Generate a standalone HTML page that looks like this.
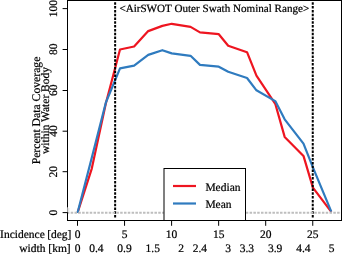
<!DOCTYPE html>
<html><head><meta charset="utf-8"><style>
html,body{margin:0;padding:0;background:#fff;width:342px;height:254px;overflow:hidden}
svg{display:block;will-change:transform}
text{font-family:"Liberation Serif",serif;fill:#000;stroke:#000;stroke-width:0.22px;text-rendering:geometricPrecision}
</style></head><body>
<svg width="342" height="254" viewBox="0 0 342 254">
<rect width="342" height="254" fill="#fff"/>

<polyline points="77.50,213.00 91.77,168.60 105.88,103.30 120.00,49.50 134.11,46.50 148.22,31.10 162.34,25.90 171.75,23.80 190.57,26.90 199.98,32.40 218.80,34.20 228.21,45.70 247.03,52.20 256.44,75.70 275.26,103.80 284.67,136.90 303.49,155.90 312.90,187.60 331.30,211.90" fill="none" stroke="#ee1520" stroke-width="2.2" stroke-linejoin="round"/>
<polyline points="77.50,213.00 91.77,157.70 105.88,102.50 120.00,68.40 134.11,65.60 148.22,54.90 162.34,50.20 171.75,53.40 190.57,55.80 199.98,64.90 218.80,66.70 228.21,71.80 247.03,78.00 256.44,90.30 275.26,101.10 284.67,119.30 303.49,143.70 312.90,167.30 331.30,211.70" fill="none" stroke="#2f7bbf" stroke-width="2.2" stroke-linejoin="round"/>
<line x1="115.14" y1="217.6" x2="115.14" y2="1" stroke="#000" stroke-width="2" stroke-dasharray="2.5 1.3"/>
<line x1="312.75" y1="217.6" x2="312.75" y2="1" stroke="#000" stroke-width="2" stroke-dasharray="2.5 1.3"/>
<line x1="68" y1="212.7" x2="341" y2="212.7" stroke="#bebebe" stroke-width="2" stroke-dasharray="2.5 1.306" stroke-dashoffset="1.098"/>
<rect x="67.5" y="0.5" width="274" height="220" fill="none" stroke="#000" stroke-width="1"/>
<rect x="67" y="207.3" width="1" height="4.9" fill="#9a9a9a"/>
<rect x="68" y="208" width="1.5" height="4" fill="#e6e6e6"/>
<line x1="62.6" y1="212.60" x2="67" y2="212.60" stroke="#000" stroke-width="1"/>
<text font-size="11.5" text-anchor="middle" transform="translate(57,212.70) rotate(-90)">0</text>
<line x1="62.6" y1="171.70" x2="67" y2="171.70" stroke="#000" stroke-width="1"/>
<text font-size="11.5" text-anchor="middle" transform="translate(57,171.86) rotate(-90)">20</text>
<line x1="62.6" y1="131.20" x2="67" y2="131.20" stroke="#000" stroke-width="1"/>
<text font-size="11.5" text-anchor="middle" transform="translate(57,131.02) rotate(-90)">40</text>
<line x1="62.6" y1="90.50" x2="67" y2="90.50" stroke="#000" stroke-width="1"/>
<text font-size="11.5" text-anchor="middle" transform="translate(57,90.18) rotate(-90)">60</text>
<line x1="62.6" y1="49.50" x2="67" y2="49.50" stroke="#000" stroke-width="1"/>
<text font-size="11.5" text-anchor="middle" transform="translate(57,49.34) rotate(-90)">80</text>
<line x1="62.6" y1="8.60" x2="67" y2="8.60" stroke="#000" stroke-width="1"/>
<text font-size="11.5" text-anchor="middle" transform="translate(57,8.50) rotate(-90)">100</text>
<line x1="77.50" y1="221" x2="77.50" y2="225.8" stroke="#000" stroke-width="1"/>
<text x="77.50" y="238" font-size="11.5" text-anchor="middle">0</text>
<line x1="124.55" y1="221" x2="124.55" y2="225.8" stroke="#000" stroke-width="1"/>
<text x="124.55" y="238" font-size="11.5" text-anchor="middle">5</text>
<line x1="171.60" y1="221" x2="171.60" y2="225.8" stroke="#000" stroke-width="1"/>
<text x="171.60" y="238" font-size="11.5" text-anchor="middle">10</text>
<line x1="218.65" y1="221" x2="218.65" y2="225.8" stroke="#000" stroke-width="1"/>
<text x="218.65" y="238" font-size="11.5" text-anchor="middle">15</text>
<line x1="265.70" y1="221" x2="265.70" y2="225.8" stroke="#000" stroke-width="1"/>
<text x="265.70" y="238" font-size="11.5" text-anchor="middle">20</text>
<line x1="312.75" y1="221" x2="312.75" y2="225.8" stroke="#000" stroke-width="1"/>
<text x="312.75" y="238" font-size="11.5" text-anchor="middle">25</text>
<text x="0.1" y="238" font-size="11.5">Incidence</text>
<text x="47.2" y="238" font-size="11.5">[deg]</text>
<text x="19.3" y="251.6" font-size="11.5">width</text>
<text x="48.3" y="251.6" font-size="11.5">[km]</text>
<text x="77.50" y="251.8" font-size="11.5" text-anchor="middle">0</text>
<text x="96.32" y="251.8" font-size="11.5" text-anchor="middle">0.4</text>
<text x="124.55" y="251.8" font-size="11.5" text-anchor="middle">0.9</text>
<text x="152.78" y="251.8" font-size="11.5" text-anchor="middle">1.5</text>
<text x="181.01" y="251.8" font-size="11.5" text-anchor="middle">2</text>
<text x="199.83" y="251.8" font-size="11.5" text-anchor="middle">2.4</text>
<text x="228.06" y="251.8" font-size="11.5" text-anchor="middle">3</text>
<text x="246.88" y="251.8" font-size="11.5" text-anchor="middle">3.3</text>
<text x="275.11" y="251.8" font-size="11.5" text-anchor="middle">3.9</text>
<text x="303.34" y="251.8" font-size="11.5" text-anchor="middle">4.4</text>
<text x="331.57" y="251.8" font-size="11.5" text-anchor="middle">5</text>
<text x="119.4" y="11.9" font-size="11.1">&lt;AirSWOT Outer Swath Nominal Range&gt;</text>
<text text-anchor="middle" font-size="11.7" transform="translate(39.7,110.5) rotate(-90)">Percent Data Coverage</text>
<text font-size="11.5" text-anchor="middle" transform="translate(48.5,110.5) rotate(-90)">within Water Body</text>
<rect x="164" y="168.5" width="81.5" height="52" fill="#fff" stroke="#000" stroke-width="1"/>
<line x1="173" y1="186" x2="196" y2="186" stroke="#ee1520" stroke-width="2.2"/>
<line x1="173" y1="203.5" x2="196" y2="203.5" stroke="#2f7bbf" stroke-width="2.2"/>
<text x="205.4" y="190.8" font-size="11.5">Median</text>
<text x="205.4" y="208.1" font-size="11.5">Mean</text>
</svg>
</body></html>
